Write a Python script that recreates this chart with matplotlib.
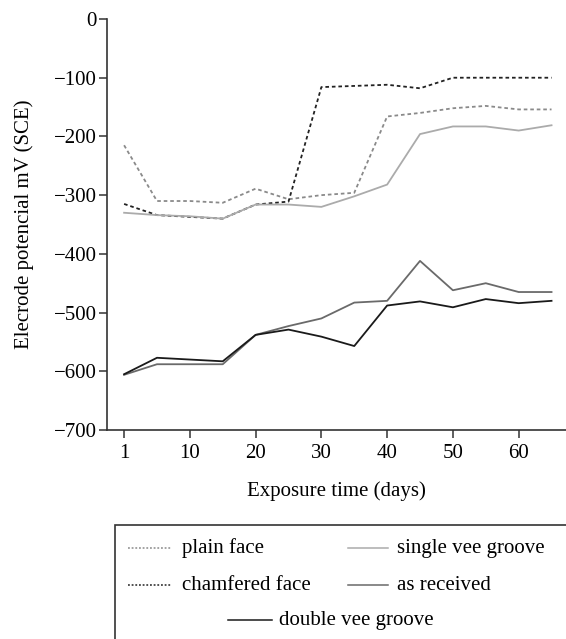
import matplotlib
matplotlib.use("Agg")
import matplotlib.pyplot as plt
from matplotlib.lines import Line2D
from matplotlib.patches import Rectangle

plt.rcParams['font.family'] = ['Liberation Serif', 'DejaVu Serif']
plt.rcParams['font.size'] = 15

# exposure time positions (first reading is day 1, drawn at the origin)
days = [0, 5, 10, 15, 20, 25, 30, 35, 40, 45, 50, 55, 60, 65]
tick_pos = [0, 10, 20, 30, 40, 50, 60]
tick_labels = ['1', '10', '20', '30', '40', '50', '60']

plain_face = [-215, -310, -310, -313, -289, -307, -300, -296, -166, -160, -152, -148, -154, -154]
chamfered_face = [-315, -334, -337, -340, -316, -311, -116, -114, -112, -118, -100, -100, -100, -100]
single_vee = [-330, -334, -336, -340, -316, -316, -320, -302, -282, -196, -183, -183, -190, -181]
as_received = [-606, -588, -588, -588, -538, -523, -510, -483, -480, -412, -462, -450, -465, -465]
double_vee = [-605, -577, -580, -583, -538, -529, -541, -557, -488, -481, -491, -477, -484, -480]

dot = (0, (2, 1.6))
series = [
    ('plain face', plain_face, '#8a8a8a', dot),
    ('chamfered face', chamfered_face, '#222222', dot),
    ('single vee groove', single_vee, '#ababab', '-'),
    ('as received', as_received, '#6a6a6a', '-'),
    ('double vee groove', double_vee, '#1a1a1a', '-'),
]

W, H = 566, 639
fig = plt.figure(figsize=(W / 100, H / 100), dpi=100)
ax = fig.add_axes([107 / W, 1 - 430 / H, (W - 107) / W, 411 / H])

for name, vals, col, ls in series:
    ax.plot(days, vals, color=col, linestyle=ls, linewidth=1.3)

ax.set_xlim(-2.6, 67.2)
ax.set_ylim(-700, 0)
ax.set_yticks(range(-700, 1, 100))
ax.set_xticks(tick_pos)
ax.set_xticklabels(tick_labels)
for s in ['top', 'right']:
    ax.spines[s].set_visible(False)
for s in ['left', 'bottom']:
    ax.spines[s].set_color('#333333')
    ax.spines[s].set_linewidth(1.2)
ax.tick_params(direction='out', length=6, width=1.1, color='#333333', labelsize=15)
ax.tick_params(axis='y', pad=1.5)
ax.tick_params(axis='x', pad=4)
ax.set_xlabel('Exposure time (days)', fontsize=15, labelpad=13)
ax.set_ylabel('Elecrode potencial mV (SCE)', fontsize=15, labelpad=14)

# legend box at the bottom, laid out 2 + 2 + 1
fig.add_artist(Rectangle((115 / W, 1 - 650 / H), 460 / W, 125 / H,
                         transform=fig.transFigure, fill=False,
                         edgecolor='#333333', linewidth=1.2))
slots = [
    (128, 172, 182, 548),
    (128, 172, 182, 585),
    (348, 388, 397, 548),
    (348, 388, 397, 585),
    (228, 272, 279, 620),
]
for (x0, x1, xt, y), idx in zip(slots, range(5)):
    name, vals, col, ls = series[idx]
    yf = 1 - y / H
    fig.add_artist(Line2D([x0 / W, x1 / W], [yf, yf], transform=fig.transFigure,
                          color=col, linestyle=(0, (1.2, 1.2)) if ls != '-' else '-',
                          linewidth=1.1))
    fig.text(xt / W, yf, name, va='center', ha='left', fontsize=15)

fig.savefig('out.png', dpi=100)
